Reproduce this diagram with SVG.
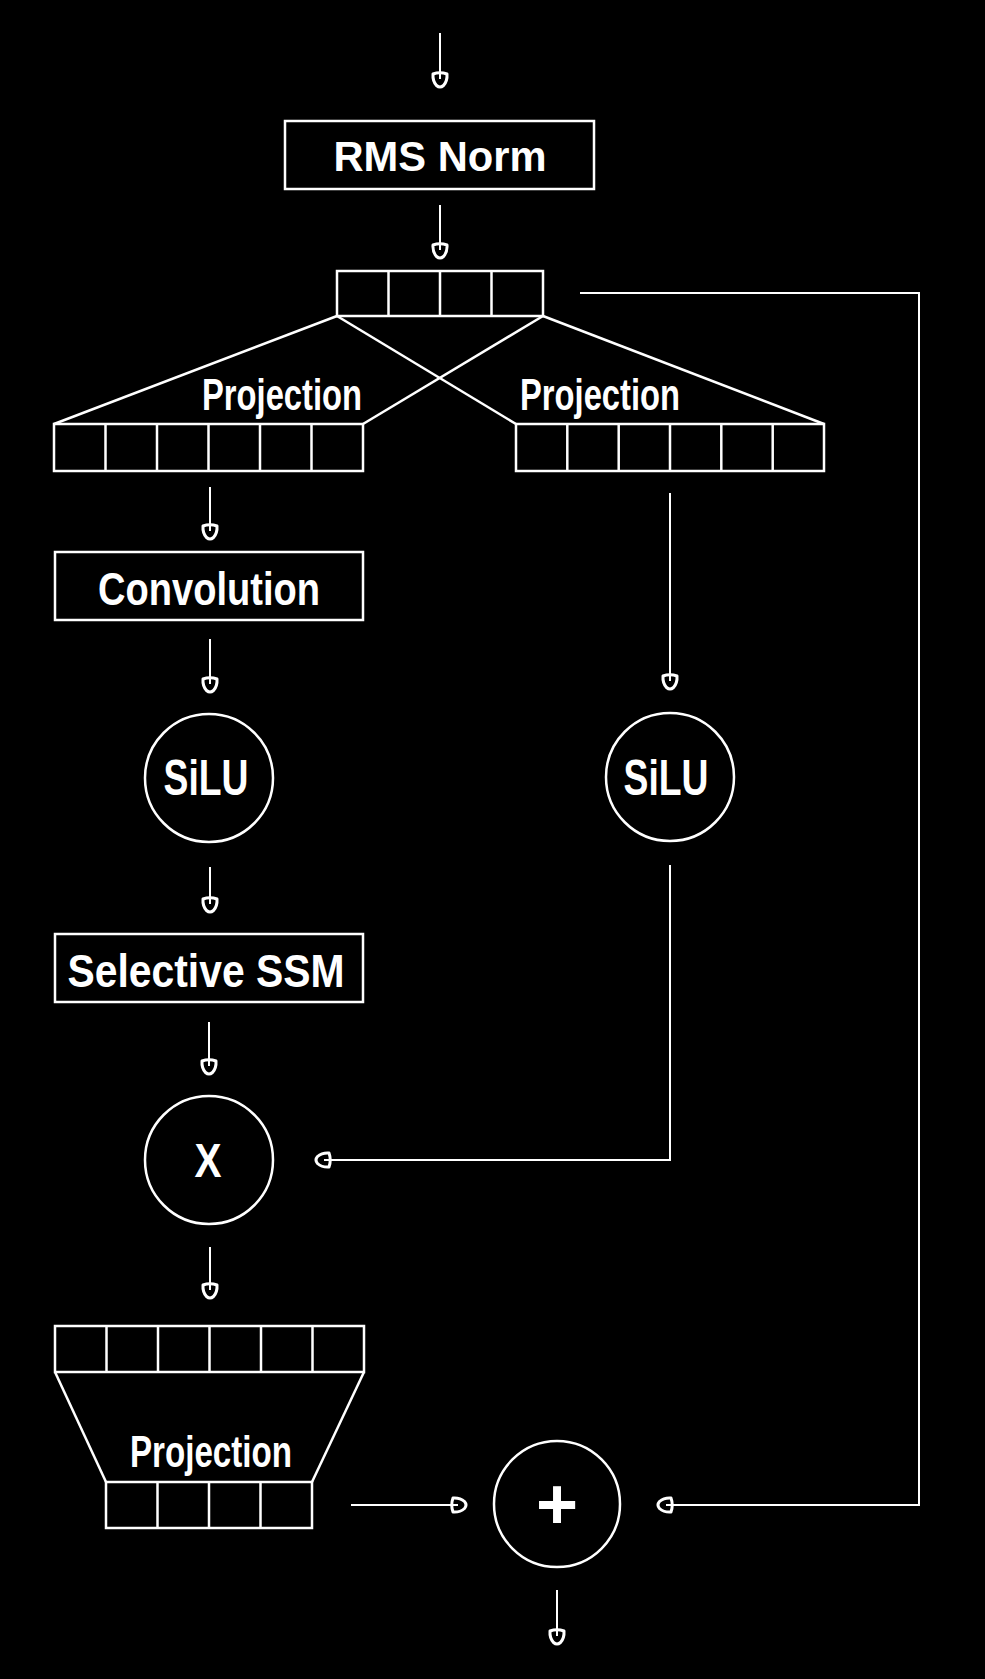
<svg xmlns="http://www.w3.org/2000/svg" width="985" height="1679" viewBox="0 0 985 1679">
<style>
.bg{fill:#000}
.box{fill:none;stroke:#fff;stroke-width:2.5}
.cell{stroke:#fff;stroke-width:2.5}
.conn{fill:none;stroke:#fff;stroke-width:2}
.lbl{fill:#fff;font-family:"Liberation Sans","DejaVu Sans",sans-serif;font-weight:bold;text-anchor:middle}
</style>
<defs>
<marker id="pick" markerUnits="userSpaceOnUse" markerWidth="24" markerHeight="24" viewBox="-12 -12 24 24" refX="0" refY="0" orient="auto">
<path d="M -5,-7 Q 2,-7.5 6.5,-3.5 Q 9.5,0 6.5,3.5 Q 2,7.5 -5,7 Q -7.5,0 -5,-7 Z" fill="none" stroke="#fff" stroke-width="3" stroke-linejoin="round"/>
</marker>
</defs>
<rect class="bg" x="0" y="0" width="985" height="1679"/>

<g id="connectors">
<line class="conn" x1="440" y1="33" x2="440" y2="79" marker-end="url(#pick)"/>
<line class="conn" x1="440" y1="205" x2="440" y2="250" marker-end="url(#pick)"/>
<line class="conn" x1="210" y1="487" x2="210" y2="531" marker-end="url(#pick)"/>
<line class="conn" x1="210" y1="639" x2="210" y2="684" marker-end="url(#pick)"/>
<line class="conn" x1="210" y1="867" x2="210" y2="904" marker-end="url(#pick)"/>
<line class="conn" x1="209" y1="1022" x2="209" y2="1066" marker-end="url(#pick)"/>
<line class="conn" x1="210" y1="1247" x2="210" y2="1290" marker-end="url(#pick)"/>
<line class="conn" x1="670" y1="493" x2="670" y2="681" marker-end="url(#pick)"/>
<polyline class="conn" points="670,865 670,1160 324,1160" marker-end="url(#pick)"/>
<polyline class="conn" points="580,293 919,293 919,1505 666,1505" marker-end="url(#pick)"/>
<line class="conn" x1="351" y1="1505" x2="458" y2="1505" marker-end="url(#pick)"/>
<line class="conn" x1="557" y1="1590" x2="557" y2="1636" marker-end="url(#pick)"/>
</g>

<g id="rms-norm">
<rect class="box" x="285" y="121" width="309" height="68"/>
<text class="lbl" x="440" y="171" font-size="42" textLength="213" lengthAdjust="spacingAndGlyphs">RMS Norm</text>
</g>

<g id="input-vector">
<rect class="box" x="337" y="271" width="206" height="45"/>
<line class="cell" x1="388.5" y1="271" x2="388.5" y2="316"/>
<line class="cell" x1="440" y1="271" x2="440" y2="316"/>
<line class="cell" x1="491.5" y1="271" x2="491.5" y2="316"/>
</g>

<g id="projection-left">
<line class="cell" x1="337" y1="316" x2="54" y2="424"/>
<line class="cell" x1="543" y1="316" x2="363" y2="424"/>
<text class="lbl" x="282" y="410" font-size="44" textLength="160" lengthAdjust="spacingAndGlyphs">Projection</text>
<rect class="box" x="54" y="424" width="309" height="47"/>
<line class="cell" x1="105.5" y1="424" x2="105.5" y2="471"/>
<line class="cell" x1="157" y1="424" x2="157" y2="471"/>
<line class="cell" x1="208.5" y1="424" x2="208.5" y2="471"/>
<line class="cell" x1="260" y1="424" x2="260" y2="471"/>
<line class="cell" x1="311.5" y1="424" x2="311.5" y2="471"/>
</g>

<g id="projection-right">
<line class="cell" x1="337" y1="316" x2="516" y2="424"/>
<line class="cell" x1="543" y1="316" x2="824" y2="424"/>
<text class="lbl" x="600" y="410" font-size="44" textLength="160" lengthAdjust="spacingAndGlyphs">Projection</text>
<rect class="box" x="516" y="424" width="308" height="47"/>
<line class="cell" x1="567.3" y1="424" x2="567.3" y2="471"/>
<line class="cell" x1="618.7" y1="424" x2="618.7" y2="471"/>
<line class="cell" x1="670" y1="424" x2="670" y2="471"/>
<line class="cell" x1="721.3" y1="424" x2="721.3" y2="471"/>
<line class="cell" x1="772.7" y1="424" x2="772.7" y2="471"/>
</g>

<g id="convolution">
<rect class="box" x="55" y="552" width="308" height="68"/>
<text class="lbl" x="209" y="605" font-size="46" textLength="222" lengthAdjust="spacingAndGlyphs">Convolution</text>
</g>

<g id="silu-left">
<circle class="box" cx="209" cy="778" r="64"/>
<text class="lbl" x="206" y="795" font-size="50" textLength="85" lengthAdjust="spacingAndGlyphs">SiLU</text>
</g>

<g id="silu-right">
<circle class="box" cx="670" cy="777" r="64"/>
<text class="lbl" x="666" y="795" font-size="50" textLength="85" lengthAdjust="spacingAndGlyphs">SiLU</text>
</g>

<g id="selective-ssm">
<rect class="box" x="55" y="934" width="308" height="68"/>
<text class="lbl" x="206" y="987" font-size="46" textLength="277" lengthAdjust="spacingAndGlyphs">Selective SSM</text>
</g>

<g id="multiply">
<circle class="box" cx="209" cy="1160" r="64"/>
<text class="lbl" x="208" y="1177" font-size="48" textLength="27" lengthAdjust="spacingAndGlyphs">X</text>
</g>

<g id="projection-out">
<rect class="box" x="55" y="1326" width="309" height="46"/>
<line class="cell" x1="106.5" y1="1326" x2="106.5" y2="1372"/>
<line class="cell" x1="158" y1="1326" x2="158" y2="1372"/>
<line class="cell" x1="209.5" y1="1326" x2="209.5" y2="1372"/>
<line class="cell" x1="261" y1="1326" x2="261" y2="1372"/>
<line class="cell" x1="312.5" y1="1326" x2="312.5" y2="1372"/>
<line class="cell" x1="55" y1="1372" x2="106" y2="1482"/>
<line class="cell" x1="364" y1="1372" x2="312" y2="1482"/>
<text class="lbl" x="211" y="1467" font-size="44" textLength="162" lengthAdjust="spacingAndGlyphs">Projection</text>
<rect class="box" x="106" y="1482" width="206" height="46"/>
<line class="cell" x1="157.5" y1="1482" x2="157.5" y2="1528"/>
<line class="cell" x1="209" y1="1482" x2="209" y2="1528"/>
<line class="cell" x1="260.5" y1="1482" x2="260.5" y2="1528"/>
</g>

<g id="add">
<circle class="box" cx="557" cy="1504" r="63"/>
<text class="lbl" x="557" y="1529" font-size="72">+</text>
</g>
</svg>
